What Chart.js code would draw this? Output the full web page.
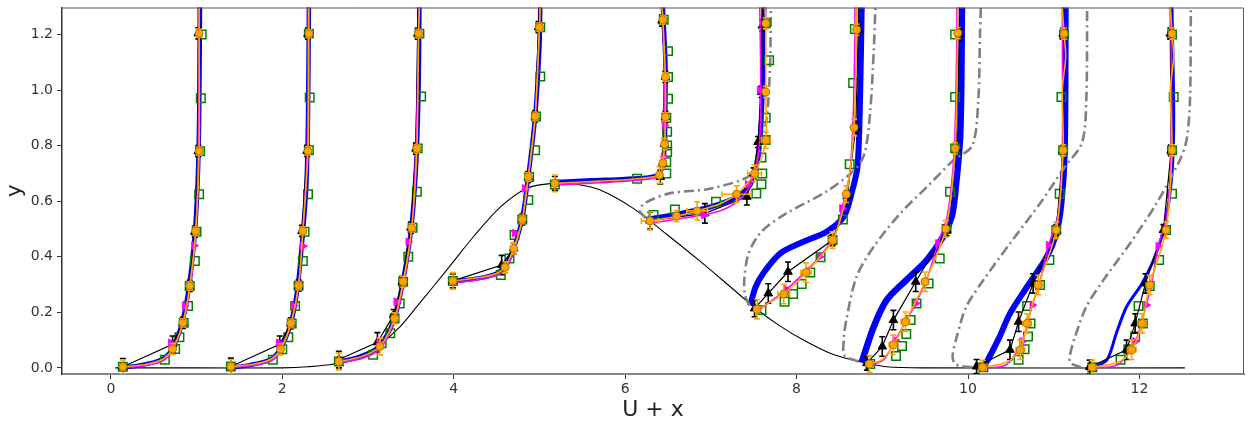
<!DOCTYPE html>
<html>
<head>
<meta charset="utf-8">
<title>U + x profiles</title>
<script src="https://cdn.jsdelivr.net/npm/chart.js@4.4.0/dist/chart.umd.min.js"></script>
<style>
  html, body { margin: 0; padding: 0; background: #fff; }
  #wrap { width: 1252px; height: 428px; }
</style>
</head>
<body>
<div id="wrap"><canvas id="chart" width="1252" height="428"></canvas></div>
<script>
// ---- data: [x, y] (markers may carry error sizes) ----
const xTicks = [0, 2, 4, 6, 8, 10, 12];
const yTicks = [0, 0.2, 0.4, 0.6, 0.8, 1.0, 1.2];

const hill = [
  [0.05, 0], [1.0, 0], [2.0, 0], [2.3, 0.004], [2.6, 0.014], [2.9, 0.04], [3.1, 0.075],
  [3.37, 0.147], [3.6, 0.232], [3.76, 0.292], [3.99, 0.38], [4.23, 0.472], [4.54, 0.578],
  [4.85, 0.646], [5.18, 0.665], [5.45, 0.66], [5.71, 0.64], [6.09, 0.575], [6.48, 0.482],
  [6.87, 0.385], [7.26, 0.283], [7.54, 0.21], [7.8, 0.152], [8.08, 0.1], [8.39, 0.053],
  [8.74, 0.022], [9.05, 0.004], [9.5, 0], [12.53, 0]
];

const blueLines = [
  [[0.10, 0.0], [0.35, 0.01], [0.58, 0.028], [0.71, 0.065], [0.82, 0.15], [0.90, 0.27], [0.97, 0.45], [1.01, 0.65], [1.03, 0.9], [1.04, 1.3]],
  [[1.37, 0.0], [1.62, 0.01], [1.85, 0.028], [1.97, 0.065], [2.09, 0.15], [2.17, 0.27], [2.23, 0.45], [2.28, 0.65], [2.30, 0.9], [2.31, 1.3]],
  [[2.63, 0.02], [2.90, 0.04], [3.12, 0.075], [3.30, 0.17], [3.40, 0.30], [3.50, 0.49], [3.56, 0.72], [3.59, 1.0], [3.60, 1.3]],
  [[3.97, 0.31], [4.30, 0.323], [4.50, 0.34], [4.61, 0.37], [4.71, 0.44], [4.80, 0.54], [4.87, 0.69], [4.95, 0.905], [5.00, 1.15], [5.01, 1.3]],
  [[5.16, 0.668], [5.6, 0.675], [6.0, 0.68], [6.35, 0.69], [6.43, 0.72], [6.46, 0.8], [6.47, 0.95], [6.47, 1.1], [6.44, 1.3]],
  [[6.25, 0.535], [6.6, 0.553], [7.0, 0.58], [7.3, 0.615], [7.46, 0.66], [7.54, 0.74], [7.58, 0.85], [7.60, 1.0], [7.62, 1.3]],
  [[7.46, 0.225], [7.52, 0.29], [7.61, 0.34], [7.81, 0.412], [8.08, 0.454], [8.35, 0.49], [8.55, 0.544], [8.64, 0.627], [8.71, 0.723], [8.74, 0.963], [8.76, 1.3]],
  [[8.76, 0.02], [8.90, 0.148], [9.05, 0.244], [9.28, 0.316], [9.52, 0.388], [9.71, 0.472], [9.81, 0.544], [9.85, 0.627], [9.91, 0.843], [9.93, 1.3]],
  [[10.15, 0.0], [10.22, 0.023], [10.37, 0.113], [10.49, 0.196], [10.69, 0.292], [10.92, 0.40], [11.03, 0.484], [11.09, 0.59], [11.13, 0.783], [11.14, 1.3]],
  [[11.45, 0.0], [11.62, 0.029], [11.73, 0.124], [11.85, 0.22], [12.03, 0.304], [12.18, 0.40], [12.30, 0.52], [12.38, 0.7], [12.40, 0.9], [12.38, 1.3]]
];
const blueWidths = [4.5, 4.5, 4.5, 4.5, 4.5, 5, 6, 6.5, 6, 3];

const grayLines = [
  [[6.24, 0.54], [6.17, 0.565], [6.23, 0.593], [6.52, 0.628], [6.99, 0.645], [7.46, 0.693], [7.55, 0.765], [7.65, 0.897], [7.69, 1.083], [7.70, 1.3]],
  [[7.45, 0.225], [7.40, 0.26], [7.39, 0.316], [7.44, 0.412], [7.59, 0.49], [7.88, 0.556], [8.35, 0.635], [8.70, 0.72], [8.80, 0.78], [8.86, 0.927], [8.90, 1.14], [8.92, 1.3]],
  [[8.72, 0.023], [8.56, 0.045], [8.55, 0.1], [8.58, 0.172], [8.70, 0.328], [8.90, 0.436], [9.21, 0.556], [9.52, 0.651], [9.83, 0.747], [10.05, 0.80], [10.12, 0.963], [10.14, 1.2], [10.15, 1.3]],
  [[10.05, 0.002], [9.86, 0.012], [9.82, 0.04], [9.87, 0.113], [9.98, 0.22], [10.18, 0.316], [10.49, 0.448], [10.84, 0.592], [11.13, 0.723], [11.33, 0.81], [11.38, 0.963], [11.39, 1.3]],
  [[11.32, 0.002], [11.19, 0.02], [11.20, 0.06], [11.25, 0.113], [11.38, 0.22], [11.58, 0.316], [11.89, 0.448], [12.20, 0.592], [12.47, 0.747], [12.55, 0.82], [12.59, 0.963], [12.60, 1.3]]
];

// black: [x, y, yErr]
const blackMarks = [
  [[0.14, 0.004, 0.03], [0.72, 0.085, 0.03], [0.84, 0.162, 0.02], [0.92, 0.295, 0.02], [0.98, 0.49, 0.02], [1.02, 0.78, 0.02], [1.02, 1.204, 0.02]],
  [[1.40, 0.005, 0.03], [1.97, 0.085, 0.03], [2.10, 0.16, 0.02], [2.19, 0.296, 0.02], [2.23, 0.493, 0.02], [2.29, 0.781, 0.02], [2.30, 1.203, 0.02]],
  [[2.66, 0.03, 0.03], [3.11, 0.092, 0.035], [3.30, 0.19, 0.02], [3.40, 0.31, 0.02], [3.50, 0.505, 0.02], [3.56, 0.789, 0.02], [3.58, 1.203, 0.02]],
  [[3.99, 0.313, 0.025], [4.56, 0.37, 0.035], [4.70, 0.43, 0.02], [4.80, 0.534, 0.02], [4.87, 0.687, 0.02], [4.95, 0.905, 0.02], [4.99, 1.226, 0.02]],
  [[5.18, 0.664, 0.025], [6.41, 0.687, 0.025], [6.44, 0.738, 0.02], [6.46, 0.805, 0.02], [6.47, 0.903, 0.02], [6.47, 1.047, 0.02], [6.43, 1.25, 0.02]],
  [[6.29, 0.53, 0.03], [6.93, 0.556, 0.035], [7.42, 0.616, 0.03], [7.50, 0.70, 0.02], [7.55, 0.813, 0.02], [7.59, 0.993, 0.02], [7.60, 1.232, 0.02]],
  [[7.51, 0.214, 0.03], [7.67, 0.268, 0.035], [7.90, 0.346, 0.035], [8.42, 0.46, 0.02], [8.59, 0.618, 0.02], [8.69, 0.865, 0.02], [8.72, 1.217, 0.02]],
  [[8.82, 0.017, 0.025], [9.00, 0.077, 0.035], [9.13, 0.172, 0.035], [9.39, 0.31, 0.035], [9.75, 0.496, 0.02], [9.86, 0.79, 0.02], [9.90, 1.20, 0.02]],
  [[10.10, 0.005, 0.025], [10.49, 0.065, 0.035], [10.59, 0.166, 0.035], [10.76, 0.304, 0.035], [11.03, 0.496, 0.02], [11.11, 0.783, 0.02], [11.11, 1.203, 0.02]],
  [[11.42, 0.003, 0.025], [11.85, 0.065, 0.035], [11.95, 0.16, 0.035], [12.07, 0.304, 0.035], [12.28, 0.496, 0.02], [12.37, 0.783, 0.02], [12.36, 1.203, 0.02]]
];

const magentaLines = [
  [[0.12, 0.0], [0.40, 0.008], [0.62, 0.028], [0.73, 0.07], [0.85, 0.165], [0.93, 0.30], [0.99, 0.49], [1.02, 0.78], [1.03, 1.2], [1.03, 1.3]],
  [[1.38, 0.0], [1.66, 0.009], [1.88, 0.028], [1.99, 0.07], [2.11, 0.165], [2.19, 0.30], [2.24, 0.49], [2.29, 0.78], [2.30, 1.2], [2.30, 1.3]],
  [[2.64, 0.018], [2.95, 0.035], [3.16, 0.075], [3.32, 0.18], [3.42, 0.31], [3.51, 0.50], [3.56, 0.79], [3.59, 1.2], [3.59, 1.3]],
  [[3.99, 0.305], [4.30, 0.318], [4.52, 0.335], [4.62, 0.36], [4.71, 0.43], [4.80, 0.535], [4.87, 0.69], [4.95, 0.905], [5.00, 1.22], [5.00, 1.3]],
  [[5.18, 0.658], [5.7, 0.666], [6.1, 0.674], [6.40, 0.69], [6.44, 0.74], [6.46, 0.81], [6.46, 0.9], [6.46, 1.05], [6.44, 1.25], [6.43, 1.3]],
  [[6.29, 0.52], [6.60, 0.535], [6.90, 0.55], [7.15, 0.57], [7.35, 0.61], [7.46, 0.66], [7.55, 0.76], [7.58, 0.9], [7.58, 1.1], [7.57, 1.3]],
  [[7.54, 0.205], [7.70, 0.24], [7.88, 0.283], [8.08, 0.34], [8.27, 0.40], [8.45, 0.48], [8.53, 0.574], [8.62, 0.7], [8.66, 0.9], [8.68, 1.2], [8.68, 1.3]],
  [[8.85, 0.008], [9.02, 0.03], [9.15, 0.10], [9.28, 0.17], [9.39, 0.232], [9.52, 0.32], [9.65, 0.448], [9.76, 0.55], [9.84, 0.79], [9.87, 1.2], [9.87, 1.3]],
  [[10.17, 0.0], [10.45, 0.012], [10.63, 0.095], [10.75, 0.226], [10.83, 0.30], [10.94, 0.442], [11.05, 0.55], [11.10, 0.78], [11.10, 1.2], [11.10, 1.3]],
  [[11.45, 0.0], [11.75, 0.012], [11.95, 0.095], [12.08, 0.226], [12.14, 0.30], [12.22, 0.438], [12.32, 0.55], [12.37, 0.78], [12.37, 1.2], [12.36, 1.3]]
];
const magentaMarks = [
  [[0.70, 0.09], [0.86, 0.223], [0.97, 0.44]],
  [[1.96, 0.09], [2.13, 0.223], [2.24, 0.438]],
  [[3.13, 0.09], [3.33, 0.238], [3.47, 0.454]],
  [[4.71, 0.485], [4.83, 0.646]],
  [[6.45, 0.76], [6.46, 0.873]],
  [[6.92, 0.55], [7.43, 0.66], [7.57, 1.0]],
  [[7.88, 0.283], [8.27, 0.40], [8.53, 0.574]],
  [[9.15, 0.10], [9.39, 0.232], [9.65, 0.448]],
  [[10.63, 0.095], [10.75, 0.226], [10.94, 0.442]],
  [[11.95, 0.095], [12.08, 0.226], [12.22, 0.438]]
];

const orangeLines = [
  [[0.14, 0.004], [0.40, 0.012], [0.60, 0.03], [0.72, 0.068], [0.84, 0.162], [0.92, 0.295], [0.99, 0.492], [1.03, 0.78], [1.03, 1.204], [1.03, 1.3]],
  [[1.40, 0.005], [1.66, 0.013], [1.86, 0.03], [1.98, 0.067], [2.10, 0.16], [2.19, 0.296], [2.24, 0.493], [2.30, 0.781], [2.31, 1.203], [2.31, 1.3]],
  [[2.66, 0.023], [2.92, 0.04], [3.14, 0.077], [3.31, 0.178], [3.41, 0.31], [3.51, 0.504], [3.57, 0.789], [3.59, 1.203], [3.60, 1.3]],
  [[3.99, 0.313], [4.30, 0.325], [4.50, 0.34], [4.60, 0.362], [4.70, 0.43], [4.80, 0.534], [4.87, 0.687], [4.95, 0.905], [5.00, 1.226], [5.01, 1.3]],
  [[5.18, 0.664], [5.7, 0.672], [6.1, 0.68], [6.40, 0.694], [6.44, 0.738], [6.46, 0.805], [6.47, 0.903], [6.47, 1.047], [6.44, 1.253], [6.43, 1.3]],
  [[6.29, 0.529], [6.60, 0.546], [6.84, 0.565], [7.10, 0.59], [7.30, 0.625], [7.51, 0.70], [7.64, 0.82], [7.64, 0.993], [7.64, 1.24], [7.63, 1.3]],
  [[7.54, 0.211], [7.85, 0.266], [8.11, 0.343], [8.42, 0.46], [8.58, 0.625], [8.67, 0.865], [8.70, 1.217], [8.70, 1.3]],
  [[8.85, 0.014], [9.00, 0.03], [9.13, 0.083], [9.27, 0.166], [9.50, 0.31], [9.74, 0.50], [9.85, 0.79], [9.88, 1.205], [9.88, 1.3]],
  [[10.17, 0.002], [10.45, 0.02], [10.61, 0.065], [10.69, 0.16], [10.82, 0.298], [11.03, 0.496], [11.11, 0.783], [11.10, 1.0], [11.14, 1.12], [11.12, 1.203], [11.10, 1.3]],
  [[11.45, 0.002], [11.75, 0.02], [11.91, 0.065], [12.03, 0.16], [12.12, 0.298], [12.31, 0.496], [12.38, 0.783], [12.36, 1.0], [12.40, 1.12], [12.38, 1.203], [12.36, 1.3]]
];
// orange: [x, y, xErr, yErr]
const orangeMarks = [
  [[0.14, 0.004, 0.02, 0.025], [0.72, 0.068, 0.02, 0.02], [0.84, 0.162, 0.02, 0.015], [0.92, 0.295, 0.015, 0.015], [0.99, 0.492, 0.015, 0.015], [1.03, 0.78, 0.015, 0.015], [1.03, 1.204, 0.015, 0.015]],
  [[1.40, 0.005, 0.02, 0.025], [1.98, 0.067, 0.02, 0.02], [2.10, 0.16, 0.02, 0.015], [2.19, 0.296, 0.015, 0.015], [2.24, 0.493, 0.015, 0.015], [2.30, 0.781, 0.015, 0.015], [2.31, 1.203, 0.015, 0.015]],
  [[2.66, 0.023, 0.02, 0.03], [3.14, 0.077, 0.03, 0.03], [3.31, 0.178, 0.02, 0.02], [3.41, 0.31, 0.02, 0.02], [3.51, 0.504, 0.015, 0.015], [3.57, 0.789, 0.015, 0.015], [3.59, 1.203, 0.015, 0.015]],
  [[3.99, 0.313, 0.02, 0.03], [4.60, 0.362, 0.02, 0.02], [4.70, 0.43, 0.02, 0.02], [4.80, 0.534, 0.015, 0.015], [4.87, 0.687, 0.015, 0.015], [4.95, 0.905, 0.015, 0.015], [5.00, 1.226, 0.015, 0.015]],
  [[5.18, 0.664, 0.02, 0.03], [6.40, 0.694, 0.03, 0.03], [6.44, 0.738, 0.02, 0.02], [6.46, 0.805, 0.02, 0.02], [6.47, 0.903, 0.015, 0.015], [6.47, 1.047, 0.015, 0.015], [6.44, 1.253, 0.015, 0.015]],
  [[6.29, 0.529, 0.1, 0.033], [6.60, 0.546, 0.03, 0.02], [6.84, 0.565, 0.12, 0.033], [7.30, 0.625, 0.17, 0.03], [7.51, 0.70, 0.08, 0.03], [7.64, 0.82, 0.05, 0.03], [7.64, 0.993, 0.02, 0.02], [7.64, 1.24, 0.02, 0.02]],
  [[7.54, 0.211, 0.04, 0.035], [7.85, 0.266, 0.07, 0.035], [8.11, 0.343, 0.06, 0.035], [8.42, 0.46, 0.04, 0.03], [8.58, 0.625, 0.03, 0.03], [8.67, 0.865, 0.02, 0.03], [8.70, 1.217, 0.02, 0.02]],
  [[8.85, 0.014, 0.04, 0.03], [9.13, 0.083, 0.05, 0.035], [9.27, 0.166, 0.05, 0.035], [9.50, 0.31, 0.04, 0.035], [9.74, 0.50, 0.03, 0.03], [9.85, 0.79, 0.02, 0.02], [9.88, 1.205, 0.02, 0.02]],
  [[10.17, 0.002, 0.04, 0.025], [10.61, 0.065, 0.05, 0.035], [10.69, 0.16, 0.05, 0.035], [10.82, 0.298, 0.04, 0.035], [11.03, 0.496, 0.03, 0.03], [11.11, 0.783, 0.02, 0.02], [11.12, 1.203, 0.02, 0.02]],
  [[11.45, 0.002, 0.04, 0.025], [11.91, 0.065, 0.05, 0.035], [12.03, 0.16, 0.05, 0.035], [12.12, 0.298, 0.04, 0.035], [12.31, 0.496, 0.03, 0.03], [12.38, 0.783, 0.02, 0.02], [12.38, 1.203, 0.02, 0.02]]
];

const greenMarks = [
  [[0.14, 0.004], [0.63, 0.029], [0.75, 0.068], [0.80, 0.11], [0.85, 0.162], [0.90, 0.223], [0.92, 0.295], [0.98, 0.385], [1.00, 0.49], [1.03, 0.625], [1.04, 0.78], [1.05, 0.97], [1.06, 1.20]],
  [[1.40, 0.005], [1.89, 0.029], [2.00, 0.067], [2.07, 0.11], [2.11, 0.16], [2.15, 0.223], [2.19, 0.296], [2.24, 0.385], [2.26, 0.49], [2.30, 0.625], [2.31, 0.783], [2.32, 0.973], [2.31, 1.203]],
  [[2.66, 0.023], [3.06, 0.047], [3.16, 0.089], [3.26, 0.125], [3.31, 0.178], [3.37, 0.232], [3.41, 0.31], [3.47, 0.40], [3.52, 0.504], [3.57, 0.634], [3.58, 0.79], [3.62, 0.977], [3.60, 1.203]],
  [[3.99, 0.313], [4.55, 0.334], [4.65, 0.394], [4.71, 0.478], [4.80, 0.534], [4.87, 0.604], [4.88, 0.687], [4.95, 0.783], [4.96, 0.905], [5.01, 1.049], [5.01, 1.226]],
  [[5.18, 0.66], [6.14, 0.681], [6.48, 0.70], [6.48, 0.74], [6.49, 0.777], [6.49, 0.80], [6.49, 0.85], [6.48, 0.90], [6.50, 0.969], [6.50, 1.047], [6.50, 1.14], [6.45, 1.253]],
  [[6.33, 0.55], [6.58, 0.57], [7.06, 0.598], [7.53, 0.628], [7.59, 0.661], [7.60, 0.70], [7.59, 0.757], [7.64, 0.82], [7.64, 0.90], [7.68, 1.107], [7.64, 1.24]],
  [[7.59, 0.208], [7.86, 0.238], [7.96, 0.266], [8.06, 0.302], [8.16, 0.343], [8.28, 0.398], [8.42, 0.46], [8.54, 0.534], [8.62, 0.733], [8.66, 1.025], [8.68, 1.22]],
  [[8.86, 0.014], [9.16, 0.043], [9.23, 0.079], [9.28, 0.122], [9.33, 0.172], [9.40, 0.232], [9.54, 0.304], [9.67, 0.394], [9.75, 0.50], [9.79, 0.634], [9.85, 0.79], [9.85, 0.975], [9.85, 1.2]],
  [[10.18, 0.002], [10.59, 0.029], [10.66, 0.067], [10.70, 0.113], [10.73, 0.16], [10.69, 0.223], [10.84, 0.298], [10.95, 0.388], [11.03, 0.496], [11.07, 0.627], [11.11, 0.783], [11.09, 0.975], [11.12, 1.2]],
  [[11.45, 0.002], [11.78, 0.029], [11.87, 0.067], [11.95, 0.113], [12.04, 0.16], [11.99, 0.223], [12.12, 0.295], [12.23, 0.388], [12.31, 0.496], [12.38, 0.627], [12.38, 0.783], [12.40, 0.975], [12.38, 1.2]]
];

// ---- colours ----
const BLUE = '#0000ff';
const GRAY = '#808080';
const MAGENTA = '#ff00ff';
const ORANGE = '#ffa500';
const GREEN = '#008000';
const FONT = "'DejaVu Sans', sans-serif";

const pts = arr => arr.map(p => ({ x: p[0], y: p[1] }));

const datasets = [];

// lines (no markers)
const line = (data, color, width, order, extra = {}) => ({
  data: pts(data), showLine: true, borderColor: color, borderWidth: width,
  pointRadius: 0, tension: 0.3, order, clip: 0, ...extra
});

datasets.push(line(hill, '#000', 1.1, 9));
blueLines.forEach((l, i) => datasets.push(line(l, BLUE, blueWidths[i], 8)));
grayLines.forEach(l => datasets.push(line(l, GRAY, 2.6, 7, { borderDash: [10, 4, 2, 4] })));
blackMarks.forEach(l => datasets.push(line(l.concat([[l[l.length - 1][0], 1.3]]), '#000', 1.2, 5, { tension: 0 })));
magentaLines.forEach(l => datasets.push(line(l, MAGENTA, 1.5, 3)));
orangeLines.forEach(l => datasets.push(line(l, ORANGE, 1.6, 1)));

// markers
const greenFlat = greenMarks.flat();
datasets.push({
  data: pts(greenFlat), showLine: false, pointStyle: 'rect', pointRadius: 6,
  backgroundColor: 'rgba(0,0,0,0)', borderColor: GREEN, borderWidth: 1.5, order: 6, clip: 0
});
const blackFlat = blackMarks.flat();
datasets.push({
  data: pts(blackFlat), errors: blackFlat.map(p => [0, p[2]]), errorColor: '#000',
  showLine: false, pointStyle: 'triangle', pointRadius: 5,
  backgroundColor: '#000', borderColor: '#000', borderWidth: 1, order: 4, clip: 0
});
const magentaFlat = magentaMarks.flat();
datasets.push({
  data: pts(magentaFlat), showLine: false, pointStyle: 'triangle', rotation: 90, pointRadius: 4.5,
  backgroundColor: MAGENTA, borderColor: MAGENTA, borderWidth: 1, order: 2, clip: 0
});
const orangeFlat = orangeMarks.flat();
datasets.push({
  data: pts(orangeFlat), errors: orangeFlat.map(p => [p[2], p[3]]), errorColor: ORANGE,
  showLine: false, pointStyle: 'circle', pointRadius: 4,
  backgroundColor: ORANGE, borderColor: '#b87400', borderWidth: 1, order: 0, clip: 0
});

// error bars drawn just before their marker dataset
const errorBars = {
  id: 'errorBars',
  beforeDatasetDraw(chart, args) {
    const ds = chart.data.datasets[args.index];
    if (!ds.errors) return;
    const { ctx, chartArea: a, scales: { x: sx, y: sy } } = chart;
    ctx.save();
    ctx.beginPath();
    ctx.rect(a.left, a.top, a.right - a.left, a.bottom - a.top);
    ctx.clip();
    ctx.strokeStyle = ds.errorColor;
    ctx.lineWidth = 1.6;
    const cap = 3;
    ds.data.forEach((p, i) => {
      const [ex, ey] = ds.errors[i];
      const px = sx.getPixelForValue(p.x);
      const py = sy.getPixelForValue(p.y);
      ctx.beginPath();
      if (ex) {
        const x0 = sx.getPixelForValue(p.x - ex), x1 = sx.getPixelForValue(p.x + ex);
        ctx.moveTo(x0, py); ctx.lineTo(x1, py);
        ctx.moveTo(x0, py - cap); ctx.lineTo(x0, py + cap);
        ctx.moveTo(x1, py - cap); ctx.lineTo(x1, py + cap);
      }
      if (ey) {
        const y0 = sy.getPixelForValue(p.y - ey), y1 = sy.getPixelForValue(p.y + ey);
        ctx.moveTo(px, y0); ctx.lineTo(px, y1);
        ctx.moveTo(px - cap, y0); ctx.lineTo(px + cap, y0);
        ctx.moveTo(px - cap, y1); ctx.lineTo(px + cap, y1);
      }
      ctx.stroke();
    });
    ctx.restore();
  }
};

// top/right frame of the axes box
const frame = {
  id: 'frame',
  afterDatasetsDraw(chart) {
    const { ctx, chartArea: a } = chart;
    ctx.save();
    ctx.strokeStyle = '#555';
    ctx.lineWidth = 1;
    ctx.beginPath();
    ctx.moveTo(a.left, a.top + 0.5);
    ctx.lineTo(a.right - 0.5, a.top + 0.5);
    ctx.lineTo(a.right - 0.5, a.bottom);
    ctx.stroke();
    ctx.restore();
  }
};

new Chart(document.getElementById('chart'), {
  type: 'scatter',
  data: { datasets },
  options: {
    responsive: false,
    animation: false,
    events: [],
    layout: { padding: { left: 0, right: 8, top: 6, bottom: 0 } },
    plugins: { legend: { display: false }, tooltip: { enabled: false } },
    scales: {
      x: {
        type: 'linear', min: -0.57, max: 13.22,
        afterBuildTicks: s => { s.ticks = xTicks.map(v => ({ value: v })); },
        afterFit: s => { s.height = 54; },
        ticks: { font: { family: FONT, size: 14 }, color: '#333', padding: 2, maxRotation: 0, callback: v => String(v) },
        grid: { drawOnChartArea: false, drawTicks: true, tickLength: 5, color: '#333', tickWidth: 1 },
        border: { display: true, color: '#888', width: 2 },
        title: { display: true, text: 'U + x', font: { family: FONT, size: 22 }, color: '#222', padding: { top: 0, bottom: 5 } }
      },
      y: {
        type: 'linear', min: -0.022, max: 1.297,
        afterBuildTicks: s => { s.ticks = yTicks.map(v => ({ value: v })); },
        afterFit: s => { s.width = 62; s.paddingTop = 0; s.paddingBottom = 0; },
        ticks: { font: { family: FONT, size: 14, lineHeight: 0.5 }, color: '#333', padding: 4, callback: v => v.toFixed(1) },
        grid: { drawOnChartArea: false, drawTicks: true, tickLength: 5, color: '#333', tickWidth: 1 },
        border: { display: true, color: '#333', width: 1.5 },
        title: { display: true, text: 'y', font: { family: FONT, size: 22 }, color: '#222', padding: { top: 2, bottom: 0 } }
      }
    }
  },
  plugins: [errorBars, frame]
});
</script>
</body>
</html>
